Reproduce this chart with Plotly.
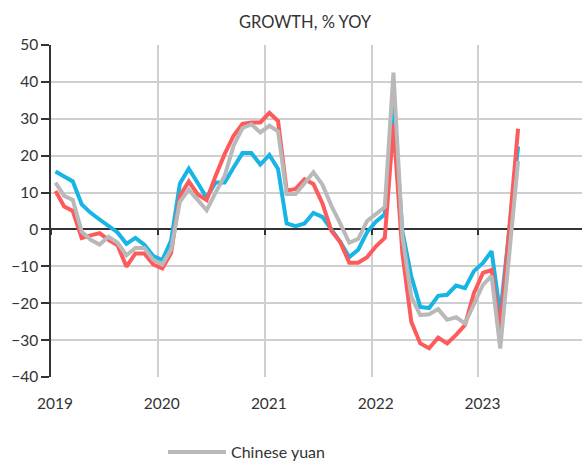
import plotly.graph_objects as go

# Monthly observations, Jan 2019 - May 2023
months = [f"{y}-{m:02d}" for y in range(2019, 2024) for m in range(1, 13)][:53]

blue_series = [
    15.7, 14.3, 13.0, 6.8, 4.5, 2.7, 0.9, -0.8, -3.9, -2.3, -4.1, -7.2,
    -8.3, -3.0, 12.4, 16.5, 12.6, 8.6, 12.7, 12.7, 16.8, 20.7, 20.7, 17.6,
    20.2, 16.4, 1.6, 0.9, 1.6, 4.5, 3.4, -0.2, -3.4, -7.5, -5.5, -0.7,
    2.2, 4.1, 35.0, -0.5, -12.7, -21.0, -21.3, -18.0, -17.7, -15.2, -15.9, -11.3,
    -9.1, -5.9, -23.0, -0.5, 22.5,
]
red_series = [
    10.4, 6.2, 5.0, -2.3, -1.6, -1.0, -2.8, -4.3, -10.1, -6.5, -6.5, -9.5,
    -10.6, -6.4, 9.1, 13.0, 9.5, 8.0, 14.5, 20.4, 25.4, 28.6, 29.0, 29.0,
    31.6, 29.4, 10.5, 11.0, 13.6, 12.3, 7.1, -0.4, -3.5, -9.0, -9.0, -7.5,
    -4.5, -2.3, 28.5, -6.4, -25.0, -30.9, -32.2, -29.3, -30.9, -28.6, -25.9, -17.3,
    -11.8, -11.0, -27.5, 0.5, 27.3,
]
yuan_series = [
    12.7, 9.1, 8.0, -0.6, -2.8, -4.1, -2.0, -3.6, -7.0, -5.0, -5.0, -8.2,
    -9.5, -5.4, 7.5, 10.8, 8.0, 5.2, 10.0, 14.5, 22.7, 27.5, 28.5, 26.3,
    28.1, 26.6, 9.6, 9.6, 12.5, 15.5, 12.2, 6.4, 1.6, -3.6, -2.6, 2.3,
    4.2, 6.1, 42.5, -1.8, -18.2, -23.2, -23.0, -21.6, -24.5, -23.8, -25.5, -20.0,
    -15.0, -12.6, -32.3, -7.0, 18.5,
]

year_ticks = ["2019-01-01", "2020-01-01", "2021-01-01", "2022-01-01", "2023-01-01"]
year_labels = ["2019", "2020", "2021", "2022", "2023"]
x_range = ["2019-01-01", "2023-12-21"]
y_min, y_max = -40, 50

BLUE = "#17b4e6"
RED = "#fd5b5b"
GREY = "#b9b9b9"
INK = "#333333"
GRID = "#cfcfcf"
FONT = "Lato"

fig = go.Figure()

for name, values, color, show in [
    ("Series 1", blue_series, BLUE, False),
    ("Series 2", red_series, RED, False),
    ("Chinese yuan", yuan_series, GREY, True),
]:
    fig.add_trace(go.Scatter(
        x=months, y=values, name=name, mode="lines",
        xperiod="M1", xperiodalignment="middle",
        line=dict(color=color, width=4),
        showlegend=show,
    ))

# helper trace so the zero-line axis (ticks on y = 0) gets drawn
fig.add_trace(go.Scatter(x=[months[0]], y=[None], xaxis="x2",
                         showlegend=False, hoverinfo="skip"))

fig.update_layout(
    width=582, height=463,
    margin=dict(l=51, r=0, t=45, b=86),
    paper_bgcolor="white", plot_bgcolor="white",
    font=dict(family=FONT, size=15, color=INK),
    title=dict(text="GROWTH, % YOY", x=305 / 582, xanchor="center",
               xref="container", yref="container", y=1 - 22 / 463,
               yanchor="middle", font=dict(size=16.5, color=INK, family=FONT)),
    showlegend=True,
    legend=dict(orientation="h", xref="container", yref="container",
                x=163 / 582, xanchor="left", y=11 / 463, yanchor="middle",
                font=dict(size=16, color=INK, family=FONT), itemwidth=58,
                bgcolor="rgba(0,0,0,0)"),
    xaxis=dict(type="date", range=x_range, tickvals=year_ticks, ticktext=year_labels,
               showgrid=True, gridcolor=GRID, gridwidth=1.5,
               showline=False, zeroline=False,
               ticks="outside", ticklen=12, tickcolor="rgba(0,0,0,0)",
               ticklabelshift=4, tickfont=dict(size=15.5, color=INK)),
    xaxis2=dict(type="date", range=x_range, tickvals=year_ticks, overlaying="x",
                anchor="free", position=(0 - y_min) / (y_max - y_min),
                showgrid=False, showticklabels=False, showline=True,
                linecolor=INK, linewidth=1.5, ticks="outside", ticklen=5,
                tickcolor=INK, tickwidth=1.5, layer="below traces"),
    yaxis=dict(range=[y_min, y_max], dtick=10, showgrid=True, gridcolor=GRID,
               gridwidth=1.5, zeroline=False, showline=True, linecolor=INK,
               linewidth=1.5, ticks="outside", ticklen=8, tickcolor=INK,
               tickwidth=1.5, tickfont=dict(size=15.5, color=INK)),
)

fig.write_html("out.html")
